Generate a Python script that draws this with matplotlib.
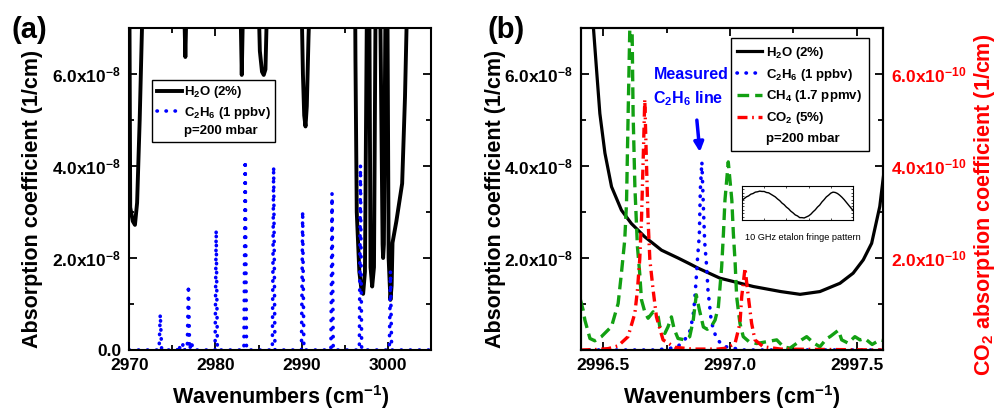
import matplotlib
matplotlib.use('Agg')
import matplotlib.pyplot as plt
from matplotlib.lines import Line2D

plt.rcParams['font.family'] = ['Liberation Sans', 'DejaVu Sans']
plt.rcParams['font.weight'] = 'bold'
plt.rcParams['axes.labelweight'] = 'bold'
plt.rcParams['mathtext.fontset'] = 'custom'
plt.rcParams['mathtext.rm'] = 'Liberation Sans:bold'
plt.rcParams['mathtext.bf'] = 'Liberation Sans:bold'
plt.rcParams['mathtext.default'] = 'bf'

# ---- panel (a): wide spectrum, values in 1e-8 1/cm ----
h2o_a_x = [2970.0, 2970.1, 2970.4, 2970.65, 2970.9, 2971.2, 2971.6,
           2976.3, 2976.5, 2976.7,
           2982.85, 2983.05, 2983.25,
           2984.95, 2985.15, 2985.4, 2985.6, 2985.8, 2986.05,
           2989.95, 2990.15, 2990.3, 2990.45, 2990.6, 2990.8, 2991.0,
           2996.2, 2996.25, 2996.4, 2996.7, 2996.95, 2997.14, 2997.35, 2997.6,
           2997.85, 2998.0, 2998.19, 2998.4, 2998.6,
           2999.1, 2999.4, 2999.46, 2999.55, 2999.75,
           2999.95, 3000.1, 3000.31, 3000.45, 3000.55, 3001.0, 3001.67, 3002.0, 3002.3,
           3005.0]
h2o_a_y = [8.0, 3.1, 2.8, 2.72, 3.2, 5.0, 8.0,
           8.0, 6.37, 8.0,
           8.0, 5.98, 8.0,
           8.0, 6.5, 6.05, 5.98, 6.1, 8.0,
           8.0, 6.0, 5.1, 4.86, 5.3, 6.8, 8.0,
           8.0, 6.3, 3.0, 1.7, 1.3, 1.22, 1.7, 8.0,
           8.0, 1.8, 1.38, 1.8, 8.0,
           8.0, 2.3, 2.0, 2.3, 8.0,
           8.0, 2.0, 1.09, 1.4, 2.33, 2.8, 3.62, 5.5, 8.0,
           8.0]

c2h6_a_x = [2970.0, 2973.45, 2973.59, 2973.75, 2975.6, 2975.75, 2975.9, 2976.1, 2976.25, 2976.4,
            2976.72, 2976.86, 2977.0, 2977.2, 2977.4, 2979.95, 2980.08, 2980.22,
            2983.3, 2983.45, 2983.6, 2986.6, 2986.75, 2986.9, 2989.98, 2990.12, 2990.26,
            2993.4, 2993.53, 2993.67, 2996.7, 2996.83, 2996.97, 3000.18, 3000.31, 3000.45, 3005.0]
c2h6_a_y = [0, 0, 0.78, 0, 0, 0.12, 0, 0, 0.15, 0,
            0, 1.41, 0, 0.18, 0, 0, 2.61, 0,
            0, 4.12, 0, 0, 3.99, 0, 0, 3.02, 0,
            0, 3.41, 0, 0, 4.02, 0, 0, 1.72, 0, 0]

# ---- panel (b): zoom on the measured line ----
h2o_b_x = [2996.455, 2996.474, 2996.487, 2996.507, 2996.533, 2996.572, 2996.611, 2996.664,
           2996.73, 2996.795, 2996.835, 2996.874, 2996.961, 2997.092, 2997.20, 2997.276,
           2997.354, 2997.433, 2997.485, 2997.525, 2997.558, 2997.59, 2997.605]
h2o_b_y = [7.5, 6.09, 5.14, 4.28, 3.55, 3.04, 2.75, 2.46,
           2.17, 2.0, 1.89, 1.78, 1.56, 1.38, 1.27, 1.21,
           1.27, 1.45, 1.67, 1.96, 2.32, 3.12, 3.8]

c2h6_b_x = [2996.41, 2996.70, 2996.76, 2996.795, 2996.825, 2996.841, 2996.854, 2996.861,
            2996.866, 2996.872, 2996.879, 2996.883, 2996.889, 2996.895, 2996.900, 2996.908,
            2996.913, 2996.92, 2996.926, 2996.946, 2996.975, 2997.05, 2997.6]
c2h6_b_y = [0.0, 0.0, 0.03, 0.08, 0.25, 0.40, 0.72, 1.1,
            1.5, 2.0, 2.5, 3.5, 4.09, 3.1, 2.35, 1.8,
            1.3, 0.94, 0.62, 0.25, 0.08, 0.0, 0.0]

ch4_b_x = [2996.41, 2996.421, 2996.428, 2996.448, 2996.467, 2996.493, 2996.533, 2996.559,
           2996.572, 2996.585, 2996.592, 2996.598, 2996.605, 2996.610, 2996.614, 2996.618,
           2996.625, 2996.635, 2996.644, 2996.651, 2996.664, 2996.677, 2996.697, 2996.717,
           2996.723, 2996.743, 2996.756, 2996.769, 2996.78, 2996.795, 2996.822, 2996.841,
           2996.855, 2996.867, 2996.878, 2996.895, 2996.91, 2996.926, 2996.941, 2996.954,
           2996.967, 2996.974, 2996.98, 2996.993, 2997.007, 2997.013, 2997.02, 2997.026,
           2997.039, 2997.052, 2997.075, 2997.105, 2997.144, 2997.184, 2997.21, 2997.236,
           2997.282, 2997.302, 2997.33, 2997.354, 2997.381, 2997.394, 2997.427, 2997.44,
           2997.465, 2997.492, 2997.512, 2997.531, 2997.56, 2997.59, 2997.61]
ch4_b_y = [1.1, 0.87, 0.65, 0.25, 0.20, 0.29, 0.51, 1.01,
           1.67, 2.39, 3.19, 5.0, 7.0, 8.5, 7.0, 5.14,
           3.55, 2.25, 1.67, 1.09, 0.83, 0.69, 0.83, 0.72,
           0.51, 0.36, 0.51, 0.72, 0.45, 0.25, 0.22, 0.29,
           0.65, 1.2, 0.9, 0.5, 0.45, 0.51, 0.65, 0.94,
           1.81, 2.54, 3.26, 4.09, 3.26, 2.54, 1.9, 1.16,
           0.58, 0.29, 0.18, 0.14, 0.18, 0.22, 0.07, 0.04,
           0.22, 0.29, 0.15, 0.07, 0.25, 0.29, 0.43, 0.22,
           0.15, 0.29, 0.22, 0.25, 0.12, 0.22, 0.2]

# CO2 on the right axis, values in 1e-10 1/cm
co2_b_x = [2996.41, 2996.47, 2996.52, 2996.559, 2996.598, 2996.625, 2996.635, 2996.644,
           2996.651, 2996.658, 2996.664, 2996.670, 2996.677, 2996.684, 2996.697, 2996.71,
           2996.736, 2996.782, 2996.85, 2996.95, 2996.987, 2997.02, 2997.039, 2997.046,
           2997.059, 2997.072, 2997.085, 2997.098, 2997.131, 2997.2, 2997.6]
co2_b_y = [0.0, 0.01, 0.03, 0.09, 0.29, 0.80, 1.30, 1.96,
           2.83, 4.2, 5.45, 4.2, 2.83, 1.96, 1.30, 0.72,
           0.22, 0.06, 0.02, 0.02, 0.04, 0.15, 0.58, 1.16,
           1.78, 1.16, 0.58, 0.22, 0.07, 0.02, 0.0]

# inset fringe trace (normalised)
fringe_x = [0.0, 0.02, 0.04, 0.06, 0.08, 0.10, 0.12, 0.14, 0.16, 0.18, 0.20, 0.22, 0.24,
            0.26, 0.28, 0.30, 0.32, 0.34, 0.36, 0.38, 0.40, 0.42, 0.44, 0.46, 0.48, 0.50,
            0.52, 0.54, 0.56, 0.58, 0.60, 0.62, 0.64, 0.66, 0.68, 0.70, 0.72, 0.74, 0.76,
            0.78, 0.80, 0.82, 0.84, 0.86, 0.88, 0.90, 0.92, 0.94, 0.96, 0.98, 1.0]
fringe_y = [0.58, 0.63, 0.68, 0.71, 0.76, 0.78, 0.82, 0.83, 0.85, 0.84, 0.84, 0.81, 0.80,
            0.76, 0.72, 0.68, 0.62, 0.57, 0.50, 0.45, 0.38, 0.33, 0.26, 0.21, 0.15, 0.12,
            0.07, 0.07, 0.06, 0.09, 0.12, 0.17, 0.24, 0.30, 0.38, 0.44, 0.53, 0.60, 0.68,
            0.73, 0.79, 0.82, 0.81, 0.78, 0.73, 0.67, 0.60, 0.52, 0.44, 0.36, 0.28]

blue = '#0000ff'
green = '#12a012'
red = '#ff0000'

fig = plt.figure(figsize=(9.95, 4.12), dpi=100)
ax_a = fig.add_axes([0.130, 0.1505, 0.303, 0.7815])
ax_b = fig.add_axes([0.584, 0.1505, 0.303, 0.7815])
ax_c = ax_b.twinx()


def style(ax):
    for s in ax.spines.values():
        s.set_linewidth(1.5)
    ax.tick_params(which='both', direction='in', width=1.3, labelsize=12.5, pad=6)
    ax.tick_params(which='major', length=6)
    ax.tick_params(which='minor', length=3.5)


e8 = 1e-8
dotted = dict(color=blue, lw=2.6, linestyle=(0, (0.1, 2.4)), dash_capstyle='round')
leg_kw = dict(fontsize=9.5, fancybox=False, edgecolor='black', framealpha=1,
              handlelength=1.9, borderaxespad=0)

# panel (a)
l1, = ax_a.plot(h2o_a_x, [v * e8 for v in h2o_a_y], color='black', lw=2.8)
l2, = ax_a.plot(c2h6_a_x, [v * e8 for v in c2h6_a_y], **dotted)
ax_a.set_xlim(2970, 3005)
ax_a.set_ylim(0, 7e-8)
style(ax_a)
ax_a.tick_params(which='both', top=True, right=True)
ax_a.set_xticks([2970, 2980, 2990, 3000])
ax_a.set_xticks([2975, 2985, 2995], minor=True)
ax_a.set_yticks([0, 2e-8, 4e-8, 6e-8])
ax_a.set_yticklabels(['0.0', r'$2.0x10^{-8}$', r'$4.0x10^{-8}$', r'$6.0x10^{-8}$'])
ax_a.set_yticks([1e-8, 3e-8, 5e-8], minor=True)
ax_a.set_xlabel(r'Wavenumbers (cm$^{-1}$)', fontsize=15.5, labelpad=7)
ax_a.set_ylabel('Absorption coefficient (1/cm)', fontsize=15.5)
ax_a.yaxis.set_label_coords(-0.286, 0.47)

blank = Line2D([], [], color='none')
leg = ax_a.legend([l1, l2, blank], ['H$_2$O (2%)', 'C$_2$H$_6$ (1 ppbv)', 'p=200 mbar'],
                  loc='upper left', bbox_to_anchor=(0.075, 0.839), labelspacing=0.33,
                  borderpad=0.35, handletextpad=0.15, **leg_kw)
leg.get_frame().set_linewidth(1.0)

# panel (b)
m1, = ax_b.plot(h2o_b_x, [v * e8 for v in h2o_b_y], color='black', lw=2.3)
m2, = ax_b.plot(c2h6_b_x, [v * e8 for v in c2h6_b_y], **dotted)
m3, = ax_b.plot(ch4_b_x, [v * e8 for v in ch4_b_y], color=green, lw=2.4,
                linestyle=(0, (3.5, 1.8)))
m4, = ax_c.plot(co2_b_x, [v * 1e-10 for v in co2_b_y], color=red, lw=2.4,
                linestyle=(0, (3.0, 1.4, 0.5, 1.4)))
ax_b.set_xlim(2996.413, 2997.601)
ax_b.set_ylim(0, 7e-8)
ax_c.set_ylim(0, 7e-10)
style(ax_b)
style(ax_c)
ax_b.tick_params(which='both', top=True, right=False)
ax_b.set_xticks([2996.5, 2997.0, 2997.5])
ax_b.set_xticklabels(['2996.5', '2997.0', '2997.5'])
ax_b.set_xticks([2996.75, 2997.25], minor=True)
ax_b.set_yticks([0, 2e-8, 4e-8, 6e-8])
ax_b.set_yticklabels(['', r'$2.0x10^{-8}$', r'$4.0x10^{-8}$', r'$6.0x10^{-8}$'])
ax_b.set_yticks([1e-8, 3e-8, 5e-8], minor=True)
ax_c.set_yticks([0, 2e-10, 4e-10, 6e-10])
ax_c.set_yticklabels(['', r'$2.0x10^{-10}$', r'$4.0x10^{-10}$', r'$6.0x10^{-10}$'])
ax_c.set_yticks([1e-10, 3e-10, 5e-10], minor=True)
ax_c.tick_params(axis='y', labelcolor=red)
ax_b.set_xlabel(r'Wavenumbers (cm$^{-1}$)', fontsize=15.5, labelpad=7)
ax_b.set_ylabel('Absorption coefficient (1/cm)', fontsize=15.5)
ax_b.yaxis.set_label_coords(-0.249, 0.47)
ax_c.set_ylabel('CO$_2$ absorption coefficient (1/cm)', fontsize=15.5, color=red)
ax_c.yaxis.set_label_coords(1.295, 0.45)

leg2 = ax_c.legend([m1, m2, m3, m4, blank],
                   ['H$_2$O (2%)', 'C$_2$H$_6$ (1 ppbv)', 'CH$_4$ (1.7 ppmv)', 'CO$_2$ (5%)',
                    'p=200 mbar'],
                   loc='upper right', bbox_to_anchor=(0.955, 0.969), labelspacing=0.45,
                   borderpad=0.5, handletextpad=0.3, **leg_kw)
leg2.get_frame().set_linewidth(1.0)

ax_b.text(0.240, 0.843, 'Measured', color=blue, fontsize=11.5, transform=ax_b.transAxes)
ax_b.text(0.240, 0.766, 'C$_2$H$_6$ line', color=blue, fontsize=11.5, transform=ax_b.transAxes)
ax_b.annotate('', xy=(0.394, 0.615), xytext=(0.384, 0.714), xycoords='axes fraction',
              arrowprops=dict(arrowstyle='-|>', color=blue, lw=2.5, mutation_scale=14,
                              shrinkA=0, shrinkB=0))

# inset with the etalon fringe
ins = fig.add_axes([0.7457, 0.466, 0.1116, 0.0825])
ins.plot(fringe_x, fringe_y, color='black', lw=1.0)
ins.set_xlim(0, 1)
ins.set_ylim(0, 1)
for s in ins.spines.values():
    s.set_linewidth(0.8)
ins.set_xticks([0.2, 0.4, 0.6, 0.8])
ins.set_yticks([0.1, 0.2, 0.3, 0.4, 0.5, 0.6, 0.7, 0.8, 0.9])
ins.tick_params(direction='in', length=1.5, width=0.5, top=True, right=True,
                labelbottom=False, labelleft=False)
fig.text(802.5 / 995, 1 - 238 / 412, '10 GHz etalon fringe pattern', fontsize=6.6,
         fontweight='normal', ha='center', va='center')

fig.text(29 / 995, 1 - 30 / 412, '(a)', fontsize=21, ha='center', va='center')
fig.text(506 / 995, 1 - 30 / 412, '(b)', fontsize=21, ha='center', va='center')

fig.savefig('out.png', dpi=100)
